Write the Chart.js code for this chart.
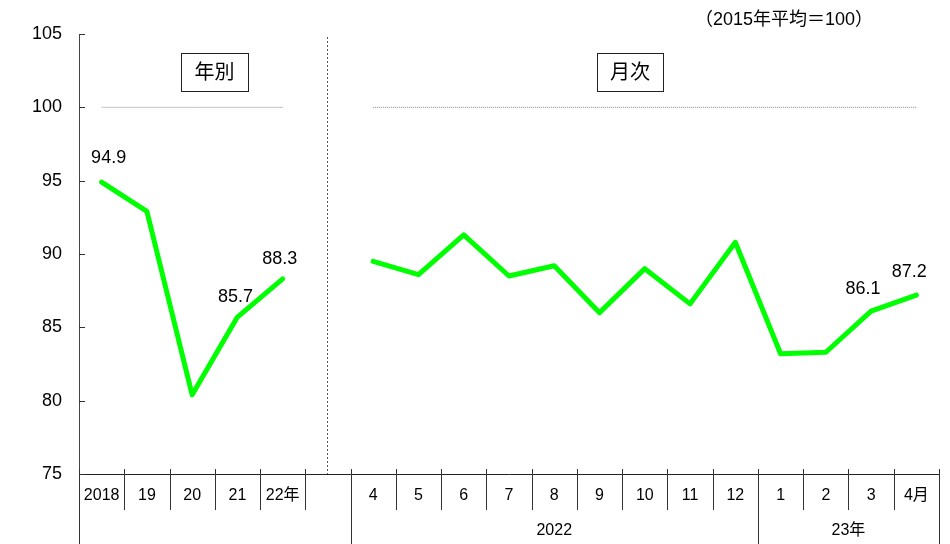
<html>
<head>
<meta charset="utf-8">
<script src="https://cdn.jsdelivr.net/npm/chart.js"></script>
<style>
body { margin: 0; background: #fff; }
</style>
</head>
<body>
<canvas id="chart" width="950" height="544"></canvas>

<script>
// categories: 5 years, one spacer, 13 months
const categories = ['2018', '19', '20', '21', '22年', '', '4', '5', '6', '7', '8', '9', '10', '11', '12', '1', '2', '3', '4月'];
const yearly  = [94.9, 92.9, 80.4, 85.7, 88.3];
const monthly = [89.5, 88.6, 91.3, 88.5, 89.2, 86.0, 89.0, 86.6, 90.8, 83.2, 83.3, 86.1, 87.2];
const yTicks = [75, 80, 85, 90, 95, 100, 105];
const refLevel = 100;
const labelledIdx = [0, 3, 4, 17, 18];   // points that carry a value label
const groupLabels = [
  { text: '2022', from: 6, to: 15 },
  { text: '23年', from: 15, to: 19 }
];
const longDividers = [0, 6, 15, 19];
const unitNote = '（2015年平均＝100）';

const FONT = "'Liberation Sans', 'Noto Sans CJK JP', sans-serif";

const yearlyData  = categories.map((c, i) => i < yearly.length ? yearly[i] : null);
const monthlyData = categories.map((c, i) => i >= 6 ? monthly[i - 6] : null);
const refLeft  = categories.map((c, i) => i < 5 ? refLevel : null);
const refRight = categories.map((c, i) => i >= 6 ? refLevel : null);

function line(ctx, x1, y1, x2, y2) {
  ctx.beginPath(); ctx.moveTo(x1, y1); ctx.lineTo(x2, y2); ctx.stroke();
}

const decor = {
  id: 'decor',
  afterDraw(chart) {
    const {ctx, chartArea: a, scales: {x, y}} = chart;
    const w = x.getPixelForValue(1) - x.getPixelForValue(0);
    const edge = i => x.getPixelForValue(i) - w / 2;
    ctx.save();
    ctx.strokeStyle = '#333';
    ctx.lineWidth = 1;

    // inward y ticks
    yTicks.forEach(v => {
      const py = Math.round(y.getPixelForValue(v)) + 0.5;
      line(ctx, a.left, py, a.left + 6, py);
    });

    // category dividers
    for (let i = 0; i <= categories.length; i++) {
      const px = Math.round(edge(i)) + 0.5;
      const isLong = longDividers.includes(i);
      line(ctx, px, a.bottom - 5, px, isLong ? 544 : 510);
    }

    // dotted separator between yearly and monthly
    ctx.strokeStyle = '#555';
    ctx.setLineDash([2, 2]);
    const sx = Math.round(x.getPixelForValue(5)) - 0.5;
    line(ctx, sx, a.top + 3, sx, a.bottom);
    ctx.setLineDash([]);

    // second row labels
    ctx.fillStyle = '#000';
    ctx.font = '16px ' + FONT;
    ctx.textAlign = 'center';
    ctx.textBaseline = 'middle';
    groupLabels.forEach(g => {
      ctx.fillText(g.text, (edge(g.from) + edge(g.to)) / 2, 531);
    });

    // value labels
    ctx.font = '18px ' + FONT;
    const offs = {0: [7, -24], 3: [-2, -20], 4: [-3, -20], 17: [-8, -22], 18: [-7, -23]};
    labelledIdx.forEach(i => {
      const v = i < 5 ? yearly[i] : monthly[i - 6];
      const px = x.getPixelForValue(i), py = y.getPixelForValue(v);
      ctx.fillText(v.toFixed(1), px + offs[i][0], py + offs[i][1]);
    });

    // boxes
    ctx.strokeStyle = '#222';
    ctx.font = '20px ' + FONT;
    [['年別', 181, 248], ['月次', 597, 663]].forEach(([t, x1, x2]) => {
      ctx.strokeRect(x1 + 0.5, 53.5, x2 - x1, 38);
      ctx.fillText(t, (x1 + x2) / 2, 73);
    });

    // unit note
    ctx.font = '18px ' + FONT;
    ctx.fillText(unitNote, 784, 20);
    ctx.restore();
  }
};

const lineStyle = {
  borderColor: '#00ff00',
  borderWidth: 5,
  pointRadius: 0,
  borderCapStyle: 'round',
  borderJoinStyle: 'round',
  spanGaps: false,
  tension: 0
};
const refStyle = {
  borderColor: '#888',
  borderWidth: 1,
  borderDash: [1, 1],
  pointRadius: 0
};

new Chart(document.getElementById('chart'), {
  type: 'line',
  data: {
    labels: categories,
    datasets: [
      Object.assign({ data: refLeft }, refStyle),
      Object.assign({ data: refRight }, refStyle),
      Object.assign({ data: yearlyData }, lineStyle),
      Object.assign({ data: monthlyData }, lineStyle)
    ]
  },
  options: {
    responsive: false,
    animation: false,
    devicePixelRatio: 1,
    layout: { padding: { top: 34, right: 11, left: 0, bottom: 0 } },
    plugins: { legend: { display: false }, tooltip: { enabled: false } },
    scales: {
      x: {
        type: 'category',
        offset: true,
        grid: { display: false, drawTicks: false },
        border: { display: true, color: '#222', width: 1 },
        ticks: { color: '#000', font: { size: 16, family: FONT }, padding: 12, autoSkip: false, maxRotation: 0 },
        afterFit: s => { s.height = 70; }
      },
      y: {
        min: 75,
        max: 105,
        grid: { display: true, drawOnChartArea: false, drawTicks: false },
        border: { display: true, color: '#444', width: 1 },
        ticks: { stepSize: 5, color: '#000', font: { size: 18, family: FONT }, padding: 17 },
        afterFit: s => { s.width = 79; }
      }
    }
  },
  plugins: [decor]
});
</script>
</body>
</html>
